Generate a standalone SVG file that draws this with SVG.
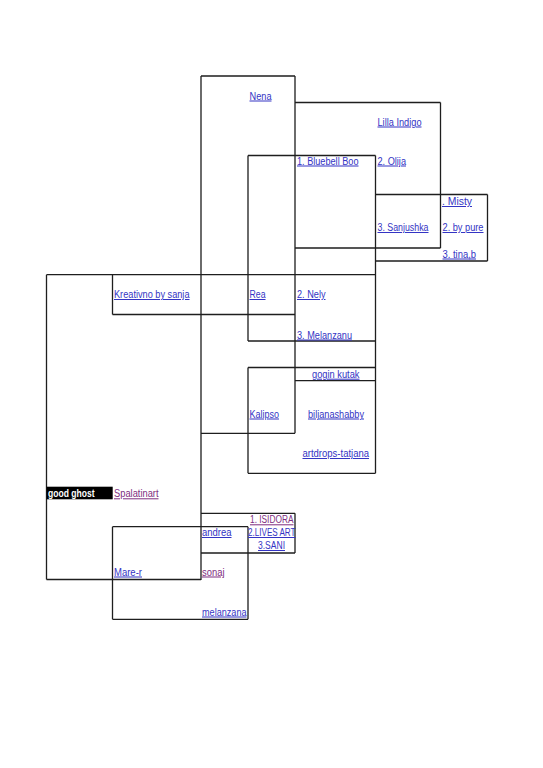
<svg xmlns="http://www.w3.org/2000/svg" width="543" height="768" viewBox="0 0 543 768">
<style>
.ln{stroke:#1e1e1e;stroke-width:1.3;fill:none}
text{font-family:"Liberation Sans",Arial,sans-serif;font-size:10px}
.lk{fill:#3434c4;text-decoration:underline}
.vs{fill:#7e2e80;text-decoration:underline}
.gg{fill:#ffffff;font-weight:bold}
</style>
<rect width="543" height="768" fill="#ffffff"/>
<g id="connectors" class="ln">
<path d="M201 76V580M295 76V433.3M295 513.3V553M248 155.5V341M248 367.5V473.3M248 526.7V619.3M375.5 155.5V473.3M440.5 102.5V248M487.5 194.5V261M46.5 274.7V579.5M112.5 274.7V314.5M112.5 526.7V619.3"/>
<path d="M201 76H295M295 102.5H440.5M248 155.5H375.5M375.5 194.5H487.5M295 248H440.5M375.5 261H487.5M46.5 274.7H375.5M112.5 314.5H295M248 341H375.5M248 367.5H375.5M295 380.7H375.5M201 433.3H295M248 473.3H375.5M201 513.3H295M112.5 526.7H248M201 553H295M46.5 579.5H201M112.5 619.3H248"/>
</g>
<g id="nena"><text class="lk" x="249.5" y="99.5" textLength="22" lengthAdjust="spacingAndGlyphs">Nena</text></g>
<g id="lilla-indigo"><text class="lk" x="377.5" y="125.5" textLength="44" lengthAdjust="spacingAndGlyphs">Lilla Indigo</text></g>
<g id="bluebell-boo"><text class="lk" x="297" y="164.5" textLength="61.5" lengthAdjust="spacingAndGlyphs">1. Bluebell Boo</text></g>
<g id="olija"><text class="lk" x="377.5" y="164.5" textLength="28.5" lengthAdjust="spacingAndGlyphs">2. Olija</text></g>
<g id="misty"><text class="lk" x="442" y="205" textLength="30" lengthAdjust="spacingAndGlyphs">. Misty</text></g>
<g id="sanjushka"><text class="lk" x="377.5" y="231" textLength="51" lengthAdjust="spacingAndGlyphs">3. Sanjushka</text></g>
<g id="by-pure"><text class="lk" x="442.5" y="231" textLength="41" lengthAdjust="spacingAndGlyphs">2. by pure</text></g>
<g id="tina-b"><text class="lk" x="442.5" y="257.5" textLength="33.5" lengthAdjust="spacingAndGlyphs">3. tina,b</text></g>
<g id="kreativno"><text class="lk" x="114" y="298" textLength="75.5" lengthAdjust="spacingAndGlyphs">Kreativno by sanja</text></g>
<g id="rea"><text class="lk" x="249.5" y="298" textLength="16" lengthAdjust="spacingAndGlyphs">Rea</text></g>
<g id="nely"><text class="lk" x="297" y="298" textLength="28.5" lengthAdjust="spacingAndGlyphs">2. Nely</text></g>
<g id="melanzanu"><text class="lk" x="297" y="338.5" textLength="55" lengthAdjust="spacingAndGlyphs">3. Melanzanu</text></g>
<g id="gogin-kutak"><text class="lk" x="312" y="377.7" textLength="47.5" lengthAdjust="spacingAndGlyphs">gogin kutak</text></g>
<g id="kalipso"><text class="lk" x="249.5" y="417.5" textLength="29.5" lengthAdjust="spacingAndGlyphs">Kalipso</text></g>
<g id="biljanashabby"><text class="lk" x="308" y="417.5" textLength="56" lengthAdjust="spacingAndGlyphs">biljanashabby</text></g>
<g id="artdrops"><text class="lk" x="302.5" y="457" textLength="66.5" lengthAdjust="spacingAndGlyphs">artdrops-tatjana</text></g>
<g id="good-ghost"><rect x="46.7" y="486.7" width="66" height="12.6" fill="#000000"/><text class="gg" x="48" y="496.5" textLength="46.5" lengthAdjust="spacingAndGlyphs">good ghost</text></g>
<g id="spalatinart"><text class="vs" x="114" y="497.3" textLength="44.5" lengthAdjust="spacingAndGlyphs">Spalatinart</text></g>
<g id="isidora"><text class="vs" x="250" y="523.3" textLength="43.5" lengthAdjust="spacingAndGlyphs">1. ISIDORA</text></g>
<g id="andrea"><text class="lk" x="202" y="536" textLength="29.5" lengthAdjust="spacingAndGlyphs">andrea</text></g>
<g id="lives-art"><text class="lk" x="248" y="536" textLength="47.5" lengthAdjust="spacingAndGlyphs">2.LIVES ART</text></g>
<g id="sani"><text class="lk" x="258" y="549" textLength="27" lengthAdjust="spacingAndGlyphs">3.SANI</text></g>
<g id="mare-r"><text class="lk" x="114" y="575.5" textLength="28" lengthAdjust="spacingAndGlyphs">Mare-r</text></g>
<g id="sonaj"><text class="vs" x="202" y="575.5" textLength="22.5" lengthAdjust="spacingAndGlyphs">sonaj</text></g>
<g id="melanzana"><text class="lk" x="202" y="615.5" textLength="44.5" lengthAdjust="spacingAndGlyphs">melanzana</text></g>
</svg>
